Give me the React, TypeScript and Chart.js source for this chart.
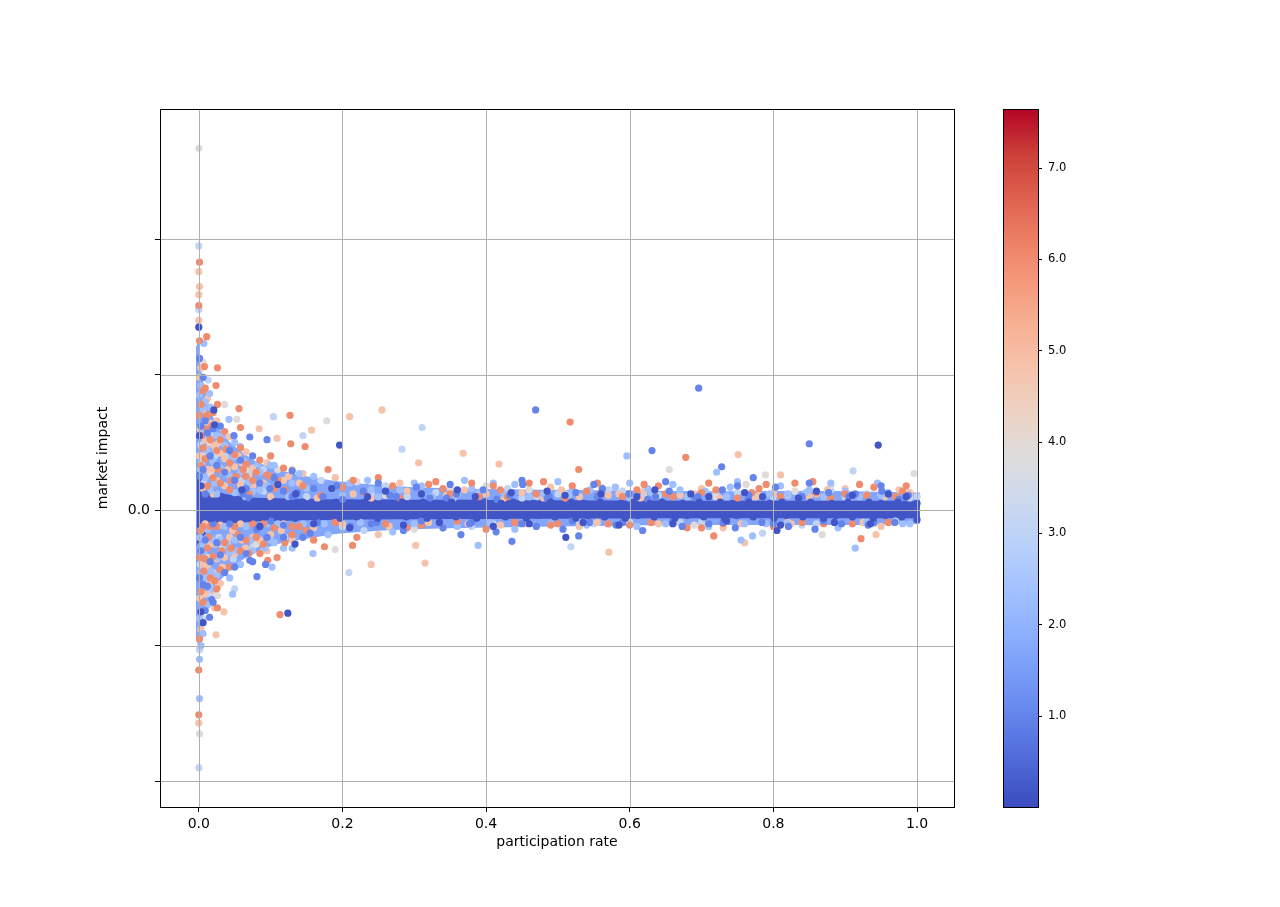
import { useEffect, useRef } from 'react';
import Chart from 'chart.js/auto';

const FONT = 'DejaVu Sans';

// colour scale
const depthMin = 0.004;
const depthMax = 7.646;
const depthTicks = [1, 2, 3, 4, 5, 6, 7];

const rateTicks = [0, 0.2, 0.4, 0.6, 0.8, 1.0];
const impactTicks = [-2, -1, 0, 1, 2];

// coolwarm, sampled every 1/16
const coolwarm = [
  [59, 76, 192], [77, 104, 215], [98, 130, 234], [119, 154, 247], [141, 176, 254],
  [163, 194, 255], [184, 208, 249], [204, 217, 238], [221, 221, 221], [236, 211, 197],
  [245, 196, 173], [247, 177, 148], [244, 154, 123], [236, 127, 99], [222, 96, 77],
  [203, 62, 56], [180, 4, 38],
];

// outline of the over-plotted region (thousands of overlapping points)
const denseRate = [-0.004, 0.0, 0.003, 0.008, 0.015, 0.025, 0.04, 0.06, 0.08, 0.11, 0.15, 0.2, 0.3, 0.5, 0.7, 0.9, 1.004];
const denseUpper = [1.2, 1.25, 1.05, 0.9, 0.76, 0.63, 0.52, 0.43, 0.36, 0.3, 0.25, 0.21, 0.17, 0.15, 0.14, 0.14, 0.13];
const denseLower = [-0.95, -1.0, -0.85, -0.75, -0.64, -0.55, -0.46, -0.37, -0.31, -0.25, -0.21, -0.17, -0.14, -0.12, -0.11, -0.11, -0.1];
const denseDepth = 1.7;

// outline of the solid centre of the band
const coreRate = [-0.003, 0.01, 0.03, 0.06, 0.1, 0.2, 0.4, 0.7, 1.004];
const coreUpper = [0.3, 0.2, 0.13, 0.1, 0.09, 0.08, 0.075, 0.07, 0.07];
const coreLower = [-0.26, -0.17, -0.11, -0.09, -0.08, -0.07, -0.065, -0.06, -0.06];

// [participation rate, market impact], grouped by colour value
const paleDepth = 3.1;
const palePoints = [
  [0.000, 1.95], [0.000, -1.90], [0.000, 1.48], [0.013, 0.96], [0.104, 0.69], [0.145, 0.55],
  [0.311, 0.61], [0.283, 0.45], [0.001, -1.03], [0.015, -0.53], [0.050, -0.58], [0.209, -0.46],
  [0.911, 0.29], [0.518, -0.27], [0.785, -0.17], [0.003, 0.48], [0.006, -0.80], [0.016, -0.62],
  [0.004, 0.35], [0.07, 0.28], [0.12, -0.20], [0.17, 0.22], [0.23, -0.15], [0.26, 0.18],
  [0.33, 0.13], [0.38, -0.12], [0.43, 0.16], [0.47, 0.10], [0.55, -0.10], [0.59, 0.14],
  [0.64, 0.11], [0.70, -0.09], [0.75, 0.13], [0.80, 0.10], [0.84, -0.11], [0.88, 0.15],
  [0.93, 0.12], [0.97, -0.08], [1.00, 0.10],
  [0.09, 0.14], [0.15, 0.10], [0.20, -0.12], [0.24, 0.12], [0.29, 0.10], [0.36, 0.12],
  [0.41, -0.10], [0.45, 0.09], [0.50, 0.12], [0.53, -0.09], [0.57, 0.15], [0.62, 0.10],
  [0.67, -0.09], [0.72, 0.12], [0.77, 0.10], [0.82, 0.11], [0.86, -0.10], [0.90, 0.10],
  [0.95, 0.12], [0.99, 0.09], [0.022, 0.40], [0.033, -0.28], [0.009, 0.62],
  [0.002, -0.40], [0.007, 0.20], [0.011, -0.50], [0.019, 0.55], [0.028, -0.20], [0.037, 0.40],
  [0.048, -0.36], [0.060, 0.22], [0.075, -0.27], [0.090, 0.30],
];

const greyDepth = 3.9;
const greyPoints = [
  [0.000, 2.67], [0.001, -1.65], [0.006, 1.09], [0.036, 0.78], [0.053, 0.67], [0.026, -0.63],
  [0.178, 0.66], [0.190, -0.29], [0.996, 0.27], [0.868, -0.18], [0.789, 0.26], [0.762, 0.19],
  [0.655, 0.30], [0.40, 0.18], [0.30, -0.14], [0.22, 0.21], [0.11, 0.30], [0.08, -0.25],
  [0.51, 0.12], [0.60, -0.09], [0.72, 0.10], [0.83, 0.14], [0.94, -0.10], [0.015, 0.50],
  [0.004, -0.80], [0.35, 0.16], [0.016, 0.27], [0.46, 0.15], [0.56, 0.17], [0.69, -0.11],
  [0.88, 0.18], [0.26, 0.11], [0.005, 0.40], [0.012, -0.35], [0.024, 0.45], [0.040, -0.25],
  [0.065, 0.30],
];

const peachDepth = 4.8;
const peachPoints = [
  [0.000, 1.76], [0.001, 1.65], [0.000, 1.59], [0.000, 1.40], [0.000, -1.57], [0.084, 0.60],
  [0.157, 0.59], [0.109, 0.53], [0.210, 0.69], [0.255, 0.74], [0.315, -0.39], [0.240, -0.40],
  [0.024, -0.92], [0.035, -0.75], [0.022, -0.72], [0.020, -0.59], [0.026, -0.57], [0.571, -0.31],
  [0.751, 0.41], [0.368, 0.42], [0.306, 0.35], [0.418, 0.34], [0.810, 0.26], [0.943, -0.18],
  [0.760, -0.24], [0.302, -0.26],
  [0.001, 0.98], [0.001, 0.40], [0.001, -0.65], [0.003, 1.05], [0.003, -0.15], [0.003, -0.88],
  [0.006, 0.74], [0.006, 0.16], [0.006, -0.40], [0.009, 0.52], [0.009, -0.10], [0.009, -0.62],
  [0.012, 0.82], [0.012, 0.30], [0.012, -0.42], [0.016, 0.64], [0.016, -0.25], [0.020, 0.48],
  [0.020, 0.12], [0.020, -0.46], [0.025, 0.66], [0.025, 0.22], [0.025, -0.36], [0.030, 0.42],
  [0.030, -0.11], [0.030, -0.54], [0.036, 0.38], [0.036, 0.18], [0.036, -0.35], [0.043, 0.54],
  [0.043, -0.20], [0.050, 0.32], [0.050, -0.32], [0.058, 0.19], [0.058, -0.10], [0.066, 0.43],
  [0.075, 0.31], [0.075, -0.20], [0.085, -0.22], [0.095, 0.35], [0.095, -0.30], [0.118, 0.22],
  [0.118, -0.10], [0.13, -0.22], [0.145, 0.27], [0.16, -0.13],
  [0.002, 0.60], [0.005, -0.30], [0.010, 0.45], [0.014, -0.55], [0.018, 0.30], [0.023, -0.25],
  [0.028, 0.50], [0.033, -0.42], [0.040, 0.30], [0.047, -0.15], [0.055, 0.40], [0.065, -0.28],
  [0.070, 0.25], [0.090, 0.20], [0.100, -0.18], [0.125, 0.25],
  [0.06, 0.35], [0.09, -0.30], [0.13, 0.30], [0.16, -0.22], [0.19, 0.24], [0.25, -0.18],
  [0.28, 0.20], [0.34, -0.13], [0.37, 0.15], [0.42, -0.11], [0.45, 0.13], [0.49, 0.17],
  [0.53, -0.12], [0.57, 0.11], [0.62, 0.14], [0.66, -0.10], [0.69, 0.12], [0.73, -0.13],
  [0.78, 0.11], [0.82, -0.09], [0.86, 0.12], [0.90, 0.16], [0.95, -0.12], [0.99, 0.13],
  [0.075, 0.18], [0.10, 0.10], [0.115, -0.15], [0.14, 0.20], [0.165, 0.09], [0.20, -0.10],
  [0.215, 0.12], [0.24, 0.09], [0.265, -0.12], [0.29, 0.14], [0.32, -0.09], [0.345, 0.11],
  [0.375, -0.10], [0.40, 0.12], [0.425, 0.09], [0.455, -0.10], [0.48, 0.09], [0.505, 0.15],
  [0.53, 0.10], [0.555, -0.09], [0.585, 0.12], [0.615, 0.09], [0.64, -0.10], [0.67, 0.11],
  [0.70, 0.16], [0.725, 0.09], [0.755, -0.10], [0.775, 0.10], [0.80, 0.13], [0.825, -0.10],
  [0.85, 0.10], [0.875, 0.15], [0.905, 0.09], [0.925, -0.09], [0.955, 0.10], [0.975, 0.15],
  [0.035, 0.28], [0.06, -0.22],
];

const skyDepth = 2.3;
const skyPoints = [
  [0.001, -1.10], [0.001, -1.39], [0.007, 1.23], [0.015, 0.86], [0.042, 0.67], [0.006, -0.91],
  [0.047, -0.62], [0.043, -0.50], [0.102, -0.42], [0.159, -0.32], [0.058, 0.47], [0.389, -0.26],
  [0.596, 0.40], [0.914, -0.28], [0.755, -0.22], [0.771, -0.19], [0.721, 0.28],
  [0.001, 0.85], [0.001, -0.20], [0.001, -0.80], [0.003, 0.92], [0.003, -0.45], [0.003, -1.00],
  [0.006, 0.60], [0.006, -0.26], [0.009, 0.80], [0.009, 0.24], [0.009, -0.50], [0.012, 0.44],
  [0.012, -0.14], [0.012, -0.70], [0.016, 0.76], [0.016, 0.15], [0.020, 0.36], [0.020, -0.22],
  [0.020, -0.58], [0.025, 0.55], [0.025, 0.12], [0.025, -0.48], [0.030, 0.31], [0.030, -0.22],
  [0.036, 0.48], [0.036, -0.12], [0.043, 0.25], [0.043, -0.31], [0.050, 0.50], [0.050, 0.13],
  [0.050, -0.22], [0.058, 0.28], [0.058, -0.40], [0.066, 0.25], [0.066, -0.12], [0.075, 0.14],
  [0.075, -0.30], [0.085, 0.28], [0.095, 0.18], [0.095, -0.10], [0.105, 0.33], [0.105, -0.24],
  [0.118, -0.28], [0.13, 0.20], [0.145, -0.10], [0.16, 0.25],
  [0.002, 0.30], [0.005, 0.75], [0.008, -0.30], [0.013, 0.55], [0.017, -0.45], [0.022, 0.20],
  [0.027, -0.35], [0.033, 0.55], [0.039, -0.25], [0.046, 0.38], [0.054, -0.30], [0.063, 0.36],
  [0.072, -0.22], [0.082, 0.34], [0.092, -0.28],
  [0.07, 0.20], [0.10, -0.22], [0.14, 0.27], [0.18, -0.18], [0.21, 0.20], [0.24, 0.15],
  [0.27, -0.16], [0.31, 0.18], [0.36, -0.12], [0.39, 0.13], [0.41, 0.20], [0.44, -0.14],
  [0.48, 0.12], [0.52, 0.15], [0.54, -0.11], [0.58, 0.17], [0.61, -0.12], [0.63, 0.13],
  [0.67, 0.15], [0.71, -0.12], [0.74, 0.17], [0.79, -0.10], [0.82, 0.12], [0.85, 0.15],
  [0.89, -0.13], [0.92, 0.10], [0.96, 0.13], [0.98, -0.10], [0.10, 0.33], [0.13, -0.28],
  [0.065, 0.10], [0.085, 0.15], [0.11, -0.10], [0.125, 0.10], [0.15, 0.16], [0.175, -0.10],
  [0.20, 0.11], [0.225, -0.09], [0.25, 0.10], [0.28, 0.15], [0.30, -0.10], [0.325, 0.10],
  [0.355, 0.09], [0.38, 0.16], [0.405, -0.09], [0.425, 0.12], [0.46, 0.10], [0.49, -0.10],
  [0.515, 0.11], [0.545, 0.15], [0.57, -0.10], [0.60, 0.09], [0.625, 0.16], [0.65, -0.10],
  [0.68, 0.10], [0.705, 0.14], [0.735, 0.10], [0.76, -0.10], [0.795, 0.12], [0.82, -0.10],
  [0.845, 0.13], [0.87, 0.10], [0.90, 0.14], [0.93, -0.09], [0.95, 0.11], [0.99, -0.10],
  [0.235, 0.22], [0.30, 0.20], [0.37, 0.22], [0.44, 0.19], [0.50, 0.21], [0.60, 0.20],
  [0.66, 0.19], [0.75, 0.21], [0.81, 0.18], [0.88, 0.20], [0.945, 0.20],
];

const salmonDepth = 6.0;
const salmonPoints = [
  [0.001, 1.83], [0.000, 1.51], [0.000, -1.18], [0.000, -1.51], [0.011, 1.28], [0.026, 1.05],
  [0.008, 1.06], [0.024, 0.92], [0.026, 0.78], [0.056, 0.75], [0.127, 0.70], [0.058, 0.61],
  [0.128, 0.49], [0.148, 0.47], [0.113, -0.77], [0.026, -0.72], [0.096, -0.37], [0.109, -0.35],
  [0.175, -0.27], [0.214, -0.26], [0.517, 0.65], [0.529, 0.30], [0.678, 0.39], [0.922, -0.21],
  [0.717, -0.19], [0.700, -0.13],
  [0.001, 1.25], [0.001, 0.70], [0.001, -0.35], [0.001, -0.95], [0.003, 0.78], [0.003, 0.33],
  [0.003, -0.60], [0.006, 0.88], [0.006, 0.46], [0.006, -0.12], [0.006, -0.68], [0.009, 0.90],
  [0.009, 0.38], [0.009, -0.36], [0.012, 0.70], [0.012, 0.18], [0.012, -0.28], [0.016, 0.52],
  [0.016, -0.12], [0.016, -0.50], [0.020, 0.72], [0.020, 0.24], [0.020, -0.34], [0.025, 0.44],
  [0.025, -0.12], [0.025, -0.58], [0.030, 0.52], [0.030, 0.20], [0.030, -0.44], [0.036, 0.58],
  [0.036, -0.24], [0.043, 0.35], [0.043, 0.15], [0.043, -0.42], [0.050, 0.41], [0.050, -0.12],
  [0.058, 0.46], [0.058, -0.30], [0.066, 0.34], [0.066, -0.22], [0.075, 0.22], [0.075, -0.10],
  [0.085, 0.37], [0.085, -0.32], [0.095, 0.26], [0.105, 0.16], [0.105, -0.13], [0.118, 0.31],
  [0.13, -0.12], [0.145, 0.18], [0.16, -0.22],
  [0.002, -0.15], [0.004, 0.55], [0.007, -0.45], [0.011, 0.60], [0.014, -0.20], [0.018, 0.62],
  [0.022, -0.52], [0.027, 0.30], [0.032, -0.30], [0.038, 0.45], [0.045, -0.28], [0.052, 0.25],
  [0.062, 0.30], [0.070, -0.32], [0.080, 0.28], [0.090, -0.25], [0.100, 0.40], [0.120, -0.24],
  [0.065, 0.25], [0.08, -0.20], [0.11, 0.22], [0.15, -0.15], [0.18, 0.30], [0.20, 0.17],
  [0.22, -0.20], [0.25, 0.24], [0.29, -0.13], [0.32, 0.19], [0.35, 0.12], [0.38, 0.20],
  [0.40, -0.14], [0.43, 0.10], [0.46, 0.20], [0.50, -0.10], [0.52, 0.18], [0.56, 0.13],
  [0.60, -0.11], [0.62, 0.19], [0.65, 0.12], [0.68, -0.13], [0.72, 0.15], [0.77, 0.13],
  [0.80, -0.12], [0.83, 0.20], [0.87, -0.10], [0.90, 0.12], [0.94, 0.17], [0.97, 0.10],
  [0.07, 0.12], [0.09, -0.10], [0.12, 0.15], [0.14, -0.12], [0.17, 0.11], [0.19, -0.09],
  [0.23, 0.13], [0.26, -0.10], [0.28, 0.09], [0.31, -0.11], [0.34, 0.16], [0.36, -0.08],
  [0.39, 0.10], [0.42, 0.15], [0.44, -0.09], [0.47, 0.12], [0.49, -0.11], [0.51, 0.09],
  [0.54, 0.14], [0.57, -0.10], [0.59, 0.10], [0.61, 0.15], [0.63, -0.09], [0.66, 0.10],
  [0.70, 0.13], [0.73, -0.10], [0.75, 0.09], [0.78, 0.16], [0.81, 0.10], [0.84, -0.09],
  [0.86, 0.13], [0.88, 0.09], [0.91, -0.10], [0.93, 0.11], [0.96, -0.09], [0.98, 0.14],
  [0.045, 0.22], [0.055, -0.18], [0.10, 0.25], [0.13, -0.18],
  [0.215, 0.22], [0.27, 0.18], [0.33, 0.21], [0.41, 0.18], [0.48, 0.21], [0.555, 0.20],
  [0.64, 0.18], [0.71, 0.20], [0.79, 0.19], [0.855, 0.21], [0.92, 0.19], [0.985, 0.18],
];

const blueDepth = 1.0;
const bluePoints = [
  [0.469, 0.74], [0.631, 0.44], [0.696, 0.90], [0.850, 0.49], [0.728, 0.32], [0.436, -0.23],
  [0.365, -0.18], [0.081, -0.49], [0.071, -0.37], [0.093, -0.40], [0.015, -0.79], [0.018, -0.66],
  [0.071, 0.54], [0.049, 0.55], [0.095, 0.52], [0.772, 0.24], [0.529, -0.19], [0.001, 1.12],
  [0.001, 0.25], [0.001, -0.50], [0.003, 0.62], [0.003, -0.30], [0.006, 0.98], [0.006, 0.30],
  [0.006, -0.55], [0.009, 0.66], [0.009, 0.12], [0.009, -0.22], [0.009, -0.74], [0.012, 0.57],
  [0.012, -0.56], [0.016, 0.40], [0.016, -0.38], [0.020, 0.60], [0.020, -0.10], [0.020, -0.68],
  [0.025, 0.33], [0.025, -0.24], [0.030, 0.62], [0.030, -0.33], [0.036, 0.28], [0.036, -0.46],
  [0.043, 0.44], [0.043, -0.10], [0.050, 0.22], [0.050, -0.42], [0.058, 0.37], [0.058, -0.20],
  [0.066, 0.16], [0.066, -0.32], [0.075, 0.40], [0.075, -0.38], [0.085, 0.20], [0.085, -0.12],
  [0.095, -0.20], [0.105, 0.24], [0.118, 0.14], [0.118, -0.20], [0.13, 0.29], [0.145, -0.20],
  [0.16, 0.16],
  [0.062, 0.12], [0.081, -0.14], [0.099, 0.16], [0.118, -0.11], [0.137, 0.13], [0.155, -0.17],
  [0.173, 0.10], [0.192, 0.18], [0.211, -0.12], [0.229, 0.14], [0.248, -0.09], [0.266, 0.11],
  [0.285, -0.15], [0.303, 0.17], [0.322, 0.09], [0.340, -0.13], [0.359, 0.12], [0.377, -0.10],
  [0.396, 0.15], [0.414, -0.16], [0.433, 0.11], [0.451, 0.19], [0.470, -0.12], [0.488, 0.10],
  [0.507, -0.14], [0.525, 0.13], [0.544, -0.09], [0.562, 0.16], [0.581, -0.11], [0.599, 0.12],
  [0.618, -0.15], [0.636, 0.10], [0.655, 0.14], [0.673, -0.12], [0.692, 0.09], [0.710, -0.10],
  [0.729, 0.15], [0.747, -0.13], [0.766, 0.11], [0.784, -0.09], [0.803, 0.17], [0.821, -0.12],
  [0.840, 0.10], [0.858, -0.14], [0.877, 0.13], [0.895, -0.10], [0.914, 0.12], [0.932, -0.11],
  [0.951, 0.14], [0.969, -0.09], [0.988, 0.11],
  [0.07, 0.09], [0.10, -0.08], [0.13, 0.10], [0.165, -0.09], [0.20, 0.08], [0.24, -0.10],
  [0.275, 0.10], [0.31, -0.08], [0.345, 0.09], [0.38, -0.09], [0.415, 0.08], [0.45, -0.10],
  [0.485, 0.09], [0.52, -0.08], [0.555, 0.10], [0.59, -0.09], [0.625, 0.08], [0.66, -0.08],
  [0.695, 0.10], [0.73, -0.09], [0.765, 0.08], [0.80, -0.10], [0.835, 0.09], [0.87, -0.08],
  [0.905, 0.10], [0.94, -0.09], [0.975, 0.08],
  [0.25, 0.20], [0.35, 0.19], [0.45, 0.22], [0.55, 0.19], [0.65, 0.21], [0.75, 0.18],
  [0.85, 0.20], [0.95, 0.18],
];

const navyDepth = 0.15;
const navyPoints = [
  [0.946, 0.48], [0.196, 0.48], [0.124, -0.76], [0.006, -0.83], [0.511, -0.20], [0.805, -0.15],
  [0.021, 0.74], [0.022, 0.63], [0.134, -0.25], [0.000, 1.35], [0.001, 0.55], [0.003, 0.18],
  [0.003, -0.75],
  [0.06, 0.15], [0.085, -0.12], [0.11, 0.19], [0.135, 0.12], [0.16, -0.10], [0.185, 0.16],
  [0.21, -0.13], [0.235, 0.10], [0.26, 0.14], [0.285, -0.11], [0.31, 0.12], [0.335, -0.09],
  [0.36, 0.15], [0.385, 0.10], [0.41, -0.12], [0.435, 0.13], [0.46, -0.10], [0.485, 0.14],
  [0.51, 0.11], [0.535, -0.09], [0.56, 0.12], [0.585, -0.11], [0.61, 0.10], [0.635, 0.15],
  [0.66, -0.10], [0.685, 0.12], [0.71, 0.10], [0.735, -0.08], [0.76, 0.13], [0.785, 0.10],
  [0.81, -0.11], [0.835, 0.09], [0.86, 0.14], [0.885, -0.09], [0.91, 0.11], [0.935, -0.10],
  [0.96, 0.12], [0.985, 0.10], [1.00, -0.07],
];

// the points sitting in the solid centre of the band
const coreDepth = 0.15;
const corePoints = [
  [0.004, 0.05], [0.009, -0.04], [0.014, 0.02], [0.019, -0.06], [0.025, 0.06], [0.031, -0.02],
  [0.036, 0.04], [0.042, -0.05], [0.048, 0.01], [0.053, 0.05], [0.059, -0.03], [0.065, 0.03],
  [0.070, -0.06], [0.076, 0.06], [0.082, -0.01], [0.088, 0.04], [0.093, -0.05], [0.099, 0.02],
  [0.105, 0.06], [0.111, -0.04], [0.116, 0.03], [0.122, -0.02], [0.128, 0.05], [0.134, -0.06],
  [0.145, 0.06], [0.157, 0.04], [0.162, -0.05], [0.174, 0.05], [0.180, -0.04], [0.191, 0.06],
  [0.197, -0.06], [0.214, 0.05], [0.220, -0.05], [0.231, 0.06], [0.249, -0.06], [0.260, 0.05],
  [0.266, -0.04], [0.283, 0.06], [0.289, -0.05], [0.312, 0.06], [0.318, -0.06], [0.329, 0.05],
  [0.335, -0.04], [0.352, 0.06], [0.358, -0.05], [0.381, 0.05], [0.387, -0.06], [0.398, 0.06],
  [0.404, -0.04], [0.421, 0.05], [0.427, -0.05], [0.438, 0.06], [0.456, -0.06], [0.467, 0.05],
  [0.473, -0.04], [0.490, 0.06], [0.496, -0.05], [0.519, 0.06], [0.525, -0.06], [0.536, 0.05],
  [0.542, -0.04], [0.559, 0.06], [0.565, -0.05], [0.588, 0.05], [0.594, -0.06], [0.605, 0.06],
  [0.611, -0.04], [0.628, 0.05], [0.634, -0.05], [0.645, 0.06], [0.663, -0.06], [0.674, 0.05],
  [0.680, -0.04], [0.697, 0.06], [0.703, -0.05], [0.726, 0.06], [0.732, -0.06], [0.743, 0.05],
  [0.749, -0.04], [0.766, 0.06], [0.772, -0.05], [0.795, 0.05], [0.801, -0.06], [0.812, 0.06],
  [0.818, -0.04], [0.835, 0.05], [0.841, -0.05], [0.852, 0.06], [0.870, -0.06], [0.881, 0.05],
  [0.887, -0.04], [0.904, 0.06], [0.910, -0.05], [0.933, 0.06], [0.939, -0.06], [0.950, 0.05],
  [0.956, -0.04], [0.973, 0.06], [0.979, -0.05], [0.996, -0.03], [1.000, 0.05],
];

// bottom to top drawing order
const groups = [
  { depth: paleDepth, points: palePoints },
  { depth: greyDepth, points: greyPoints },
  { depth: peachDepth, points: peachPoints },
  { depth: skyDepth, points: skyPoints },
  { depth: salmonDepth, points: salmonPoints },
  { depth: blueDepth, points: bluePoints },
  { depth: navyDepth, points: navyPoints },
  { depth: coreDepth, points: corePoints },
];

function colorAt(t: number) {
  const c = Math.min(1, Math.max(0, t)) * (coolwarm.length - 1);
  const i = Math.min(coolwarm.length - 2, Math.floor(c));
  const f = c - i;
  const a = coolwarm[i];
  const b = coolwarm[i + 1];
  const mix = (k: number) => Math.round(a[k] + (b[k] - a[k]) * f);
  return `rgb(${mix(0)}, ${mix(1)}, ${mix(2)})`;
}

const depthColor = (d: number) => colorAt((d - depthMin) / (depthMax - depthMin));

const crisp = (v: number) => Math.round(v) + 0.5;

const frameAndGrid = {
  id: 'frameAndGrid',
  afterDatasetsDraw(chart: any) {
    const { ctx, chartArea: a, scales } = chart;
    ctx.save();
    ctx.strokeStyle = '#b0b0b0';
    ctx.lineWidth = 1;
    ctx.beginPath();
    rateTicks.forEach((v) => {
      const x = crisp(scales.x.getPixelForValue(v));
      ctx.moveTo(x, a.top);
      ctx.lineTo(x, a.bottom);
    });
    impactTicks.forEach((v) => {
      const y = crisp(scales.y.getPixelForValue(v));
      ctx.moveTo(a.left, y);
      ctx.lineTo(a.right, y);
    });
    ctx.stroke();
    ctx.strokeStyle = '#000';
    ctx.strokeRect(crisp(a.left), crisp(a.top), Math.round(a.right - a.left), Math.round(a.bottom - a.top));
    ctx.restore();
  },
};

const colorbarFill = {
  id: 'colorbarFill',
  beforeDatasetsDraw(chart: any) {
    const { ctx, chartArea: a } = chart;
    const g = ctx.createLinearGradient(0, a.bottom, 0, a.top);
    coolwarm.forEach((c, i) => g.addColorStop(i / (coolwarm.length - 1), `rgb(${c[0]}, ${c[1]}, ${c[2]})`));
    ctx.save();
    ctx.fillStyle = g;
    ctx.fillRect(a.left, a.top, a.right - a.left, a.bottom - a.top);
    ctx.strokeStyle = '#000';
    ctx.lineWidth = 1;
    ctx.strokeRect(crisp(a.left), crisp(a.top), Math.round(a.right - a.left), Math.round(a.bottom - a.top));
    ctx.restore();
  },
};

const outline = (xs: number[], ys: number[]) => xs.map((x, i) => ({ x, y: ys[i] }));

function ScatterPanel() {
  const canvasRef = useRef<HTMLCanvasElement | null>(null);

  useEffect(() => {
    if (!canvasRef.current) return;
    const font = { family: FONT, size: 14 };
    const area = { type: 'line' as const, showLine: true, borderWidth: 0, pointRadius: 0, tension: 0.3 };

    const dots = groups
      .map((g) => ({
        data: g.points.map(([x, y]) => ({ x, y })),
        backgroundColor: depthColor(g.depth),
        borderWidth: 0,
        pointRadius: 3.6,
        pointHoverRadius: 3.6,
      }))
      .reverse();

    const chart = new Chart(canvasRef.current, {
      type: 'scatter',
      data: {
        datasets: [
          ...dots,
          { ...area, data: outline(coreRate, coreUpper), fill: '+1', backgroundColor: depthColor(coreDepth) },
          { ...area, data: outline(coreRate, coreLower), fill: false },
          { ...area, data: outline(denseRate, denseUpper), fill: '+1', backgroundColor: depthColor(denseDepth) },
          { ...area, data: outline(denseRate, denseLower), fill: false },
        ] as any,
      },
      options: {
        animation: false,
        responsive: false,
        events: [],
        layout: { padding: { left: 95, top: 109, right: 46, bottom: 56 } },
        plugins: { legend: { display: false }, tooltip: { enabled: false } },
        scales: {
          x: {
            type: 'linear',
            min: -0.054,
            max: 1.0515,
            afterBuildTicks: (s: any) => { s.ticks = rateTicks.map((value) => ({ value })); },
            afterFit: (s: any) => { s.height = 44; s.paddingLeft = 0; s.paddingRight = 0; },
            grid: { drawOnChartArea: false, drawTicks: true, tickLength: 5, tickColor: '#000', tickWidth: 1 },
            border: { display: false },
            ticks: { font, color: '#000', padding: 4, maxRotation: 0, autoSkip: false, callback: (v: any) => Number(v).toFixed(1) },
            title: { display: true, text: 'participation rate', font, color: '#000', padding: 0 },
          },
          y: {
            type: 'linear',
            min: -2.19,
            max: 2.96,
            afterBuildTicks: (s: any) => { s.ticks = impactTicks.map((value) => ({ value })); },
            afterFit: (s: any) => { s.width = 65; s.paddingTop = 0; s.paddingBottom = 0; },
            grid: { drawOnChartArea: false, drawTicks: true, tickLength: 5, tickColor: '#000', tickWidth: 1 },
            border: { display: false },
            ticks: { font, color: '#000', padding: 5, autoSkip: false, callback: (v: any) => (Number(v) === 0 ? '0.0' : '') },
            title: { display: true, text: 'market impact', font, color: '#000', padding: 0 },
          },
        },
      },
      plugins: [frameAndGrid],
    });

    return () => chart.destroy();
  }, []);

  return (
    <canvas
      ref={canvasRef}
      width={1000}
      height={907}
      style={{ position: 'absolute', left: 0, top: 0, width: 1000, height: 907 }}
    />
  );
}

function Colorbar() {
  const canvasRef = useRef<HTMLCanvasElement | null>(null);

  useEffect(() => {
    if (!canvasRef.current) return;

    const chart = new Chart(canvasRef.current, {
      type: 'scatter',
      data: { datasets: [] },
      options: {
        animation: false,
        responsive: false,
        events: [],
        layout: { padding: { left: 43, top: 109, right: 2, bottom: 100 } },
        plugins: { legend: { display: false }, tooltip: { enabled: false } },
        scales: {
          x: { display: false, min: 0, max: 1 },
          y: {
            type: 'linear',
            position: 'right',
            min: depthMin,
            max: depthMax,
            afterBuildTicks: (s: any) => { s.ticks = depthTicks.map((value) => ({ value })); },
            afterFit: (s: any) => { s.width = 40; s.paddingTop = 0; s.paddingBottom = 0; },
            grid: { drawOnChartArea: false, drawTicks: true, tickLength: 4, tickColor: '#000', tickWidth: 1 },
            border: { display: false },
            ticks: { font: { family: FONT, size: 11.5 }, color: '#000', padding: 6, autoSkip: false, callback: (v: any) => Number(v).toFixed(1) },
          },
        },
      },
      plugins: [colorbarFill],
    });

    return () => chart.destroy();
  }, []);

  return (
    <canvas
      ref={canvasRef}
      width={120}
      height={907}
      style={{ position: 'absolute', left: 960, top: 0, width: 120, height: 907 }}
    />
  );
}

export default function App() {
  return (
    <div style={{ position: 'absolute', left: 0, top: 0, width: 1280, height: 907, background: '#fff' }}>
      <ScatterPanel />
      <Colorbar />
    </div>
  );
}
